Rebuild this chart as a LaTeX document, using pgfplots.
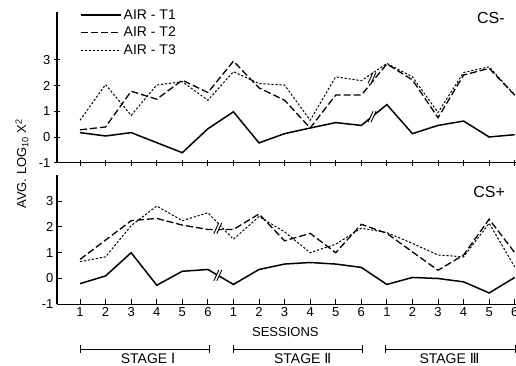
\documentclass[border=0pt]{standalone}
\usepackage{pgfplots}
\pgfplotsset{compat=1.18}
\usepackage{pgfplotstable}
\usepackage{fontspec}
\setmainfont{Liberation Sans}
\newfontfamily\dejavu{DejaVu Sans}

\pgfplotstableread{
i t1 t2 t3
0 0.17 0.28 0.65
1 0.04 0.39 2.04
2 0.17 1.78 0.84
3 -0.22 1.47 2.02
4 -0.61 2.21 2.15
5 0.32 1.73 1.43
6 0.98 2.95 2.54
7 -0.23 1.91 2.08
8 0.13 1.43 2.02
9 0.35 0.35 0.65
10 0.56 1.63 2.34
11 0.45 1.63 2.19
12 1.26 2.84 2.86
13 0.13 2.22 2.34
14 0.45 0.75 0.95
15 0.62 2.41 2.51
16 0.00 2.67 2.73
17 0.09 1.63 1.63
}\topdata

\pgfplotstableread{
i t1 t2 t3
0 -0.20 0.74 0.65
1 0.10 1.49 0.84
2 1.00 2.24 2.05
3 -0.26 2.33 2.81
4 0.28 2.07 2.24
5 0.35 1.90 2.55
6 -0.23 1.90 1.52
7 0.35 2.50 2.40
8 0.56 1.46 1.81
9 0.62 1.75 1.00
10 0.56 1.00 1.33
11 0.43 2.10 1.95
12 -0.23 1.75 1.78
13 0.04 1.03 1.36
14 0.00 0.32 0.91
15 -0.13 0.91 0.84
16 -0.56 2.30 2.14
17 0.04 1.00 0.45
}\botdata

\pgfplotsset{
  base/.style={
    scale only axis, width=459pt, xmin=-0.9, xmax=17.05, ymin=-1,
    axis x line=bottom, axis y line=left,
    axis line style={-, line width=1.1pt},
    xtick={0,...,17}, ytick={-1,0,1,2,3},
    tick style={black, line width=0.9pt},
    clip=false,
    /pgf/number format/assume math mode=true,
    ticklabel style={font=\fontsize{13}{15}\selectfont},
  },
  sT1/.style={black, line width=1.5pt},
  sT2/.style={black, line width=1.3pt, dash pattern=on 7pt off 3pt},
  sT3/.style={black, line width=1.0pt, dash pattern=on 2.2pt off 1.8pt},
}

\newcommand{\brk}[2]{%
  \fill[white] (axis cs:#1,#2) ++(-3.5pt,-5.5pt) -- ++(5pt,11pt) -- ++(2.5pt,0pt) -- ++(-5pt,-11pt) -- cycle;
  \draw[black, line width=0.9pt] (axis cs:#1,#2) ++(-4pt,-5.5pt) -- ++(5pt,11pt) ++(-2pt,-11pt) -- ++(5pt,11pt);
}
\newcommand{\etick}[1]{\draw[line width=1pt] (axis cs:#1,-2.74) ++(0pt,-4pt) -- ++(0pt,8pt);}

\begin{document}
\begin{tikzpicture}
\begin{axis}[base, at={(0,0)}, anchor=south west, height=150.9pt, ymax=4.87,
  xticklabels={}, tick align=center, major tick length=6pt,
  legend cell align=left,
  legend style={at={(axis cs:0.0,5.05)}, anchor=north west, draw=none, fill=none,
    inner sep=0pt, font=\fontsize{14}{16}\selectfont, row sep=2.5pt},
  legend image code/.code={\draw[#1] (0pt,0pt) -- (36pt,0pt); \path (0pt,0pt) -- (40pt,0pt);},
]
\addplot[sT1] table[x=i, y=t1] {\topdata};
\addlegendentry{AIR - T1}
\addplot[sT2] table[x=i, y=t2] {\topdata};
\addlegendentry{AIR - T2}
\addplot[sT3] table[x=i, y=t3] {\topdata};
\addlegendentry{AIR - T3}
\brk{11.42}{0.79}
\brk{11.42}{2.3}
\node[font=\fontsize{16}{18}\selectfont] at (axis cs:16.07,4.62) {CS-};
\node[rotate=90, font=\fontsize{13}{15}\selectfont] at (axis cs:-2.27,-1.04) {AVG. LOG\textsubscript{10} X\textsuperscript{2}};
\end{axis}

\begin{axis}[base, at={(0,-141.6pt)}, anchor=south west, height=129pt, ymax=4.0,
  xticklabels={1,2,3,4,5,6,1,2,3,4,5,6,1,2,3,4,5,6},
  tick align=inside, major tick length=5pt,
]
\addplot[sT1] table[x=i, y=t1] {\botdata};
\addplot[sT2] table[x=i, y=t2] {\botdata};
\addplot[sT3] table[x=i, y=t3] {\botdata};
\brk{5.39}{0.12}
\brk{5.39}{1.95}
\node[font=\fontsize{16}{18}\selectfont] at (axis cs:16.0,3.34) {CS+};
\node[font=\fontsize{13}{15}\selectfont] at (axis cs:8.03,-2.08) {SESSIONS};
\draw[line width=1pt] (axis cs:0,-2.74) -- (axis cs:5.05,-2.74);
\draw[line width=1pt] (axis cs:6,-2.74) -- (axis cs:11.05,-2.74);
\draw[line width=1pt] (axis cs:11.95,-2.74) -- (axis cs:17.03,-2.74);
\etick{0}
\etick{5.05}
\etick{6}
\etick{11.05}
\etick{11.95}
\etick{17.03}
\node[inner sep=0pt, font=\fontsize{14}{16}\selectfont] at (axis cs:2.66,-3.1) {STAGE {\dejavu Ⅰ}};
\node[inner sep=0pt, font=\fontsize{14}{16}\selectfont] at (axis cs:8.71,-3.1) {STAGE {\dejavu Ⅱ}};
\node[inner sep=0pt, font=\fontsize{14}{16}\selectfont] at (axis cs:14.45,-3.1) {STAGE {\dejavu Ⅲ}};
\end{axis}
\pgfresetboundingbox
\useasboundingbox (-57pt,-203.3pt) rectangle (459pt,162.7pt);
\end{tikzpicture}
\end{document}
